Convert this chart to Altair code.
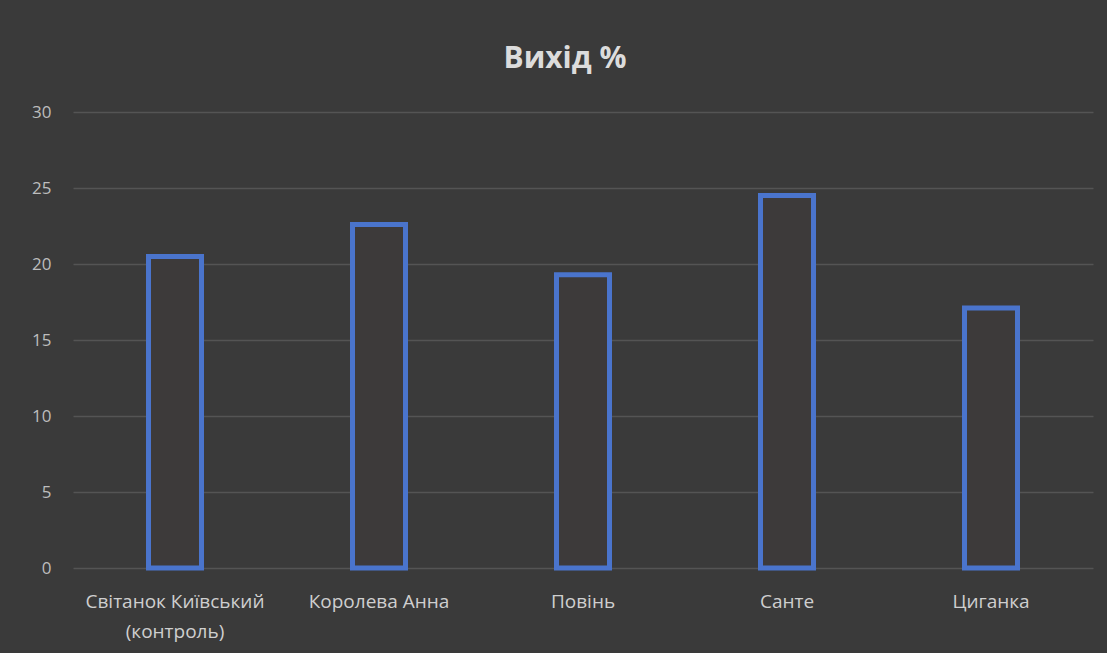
import altair as alt
import pandas as pd

categories = ["Світанок Київський\n(контроль)", "Королева Анна", "Повінь", "Санте", "Циганка"]
values = [20.5, 22.6, 19.3, 24.5, 17.1]
y_ticks = [0, 5, 10, 15, 20, 25, 30]

df = pd.DataFrame({"sort": categories, "value": values})

chart = alt.Chart(df).mark_bar(
    size=53, fill="#3d3a3a", stroke="#4a74cc", strokeWidth=5
).encode(
    x=alt.X("sort:N", sort=categories, title=None,
            scale=alt.Scale(paddingInner=0.7, paddingOuter=0.35),
            axis=alt.Axis(labelAngle=0, labelExpr="split(datum.label, '\\n')",
                          labelFontSize=19, labelColor="#cfcfcf", labelFont="Open Sans",
                          labelPadding=24, ticks=False, domain=False, grid=False,
                          labelLineHeight=30)),
    y=alt.Y("value:Q", title=None,
            scale=alt.Scale(domain=[0, 30], nice=False),
            axis=alt.Axis(values=y_ticks, labelFontSize=17, labelColor="#bdbdbd",
                          labelFont="Open Sans", labelPadding=22, ticks=False, domain=False,
                          grid=True, gridColor="#545454", gridWidth=1.5)),
).properties(
    width=1020, height=456,
    title=alt.Title("Вихід %", fontSize=30, fontWeight="bold", color="#dcdcdc",
                    font="Open Sans", anchor="middle", dx=-18, offset=29),
    autosize=alt.AutoSizeParams(type="none"),
    padding={"left": 73, "top": 112, "right": 14, "bottom": 85},
).configure(background="#3a3a3a").configure_view(stroke=None)

chart.save("out.html", embed_options={"renderer": "svg", "actions": False})
